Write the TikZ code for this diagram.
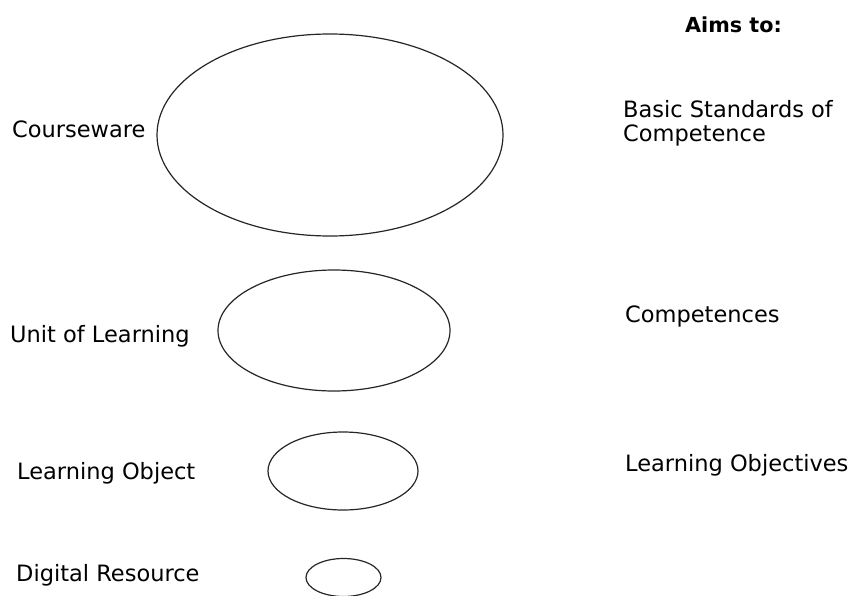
\documentclass[tikz,border=0pt]{standalone}
\usepackage{fontspec}
\setmainfont{DejaVu Sans}
\begin{document}
\begin{tikzpicture}[x=1pt,y=-1pt,
  lbl/.style={anchor=base west,inner sep=0pt,font=\fontsize{22.5}{24.7}\selectfont,align=left},
  hdr/.style={anchor=base west,inner sep=0pt,font=\fontsize{20.7}{24}\selectfont\bfseries},
  oval/.style={draw=black!85,line width=1.2pt}]
\useasboundingbox (0,0) rectangle (853,596);
\begin{scope}
\clip (0,0) rectangle (853,596);
\draw[oval] (330,135) ellipse [x radius=173, y radius=101];
\draw[oval] (334,330.5) ellipse [x radius=116, y radius=60.5];
\draw[oval] (343,471) ellipse [x radius=75, y radius=39];
\draw[oval] (343.5,577.5) ellipse [x radius=37.5, y radius=19];
\end{scope}
\node[lbl] (cw) at (12,138) {Courseware};
\node[lbl] (ul) at (10,342.5) {Unit of Learning};
\node[lbl] (lo) at (17,479) {Learning Object};
\node[lbl] (dr) at (16,581) {Digital Resource};
\node[hdr] (aims) at (685,33) {Aims to:};
\node[lbl] (bsc) at (623,142) {Basic Standards of\\Competence};
\node[lbl] (comp) at (625,322) {Competences};
\node[lbl] (lobj) at (625,471) {Learning Objectives};
\end{tikzpicture}
\end{document}
